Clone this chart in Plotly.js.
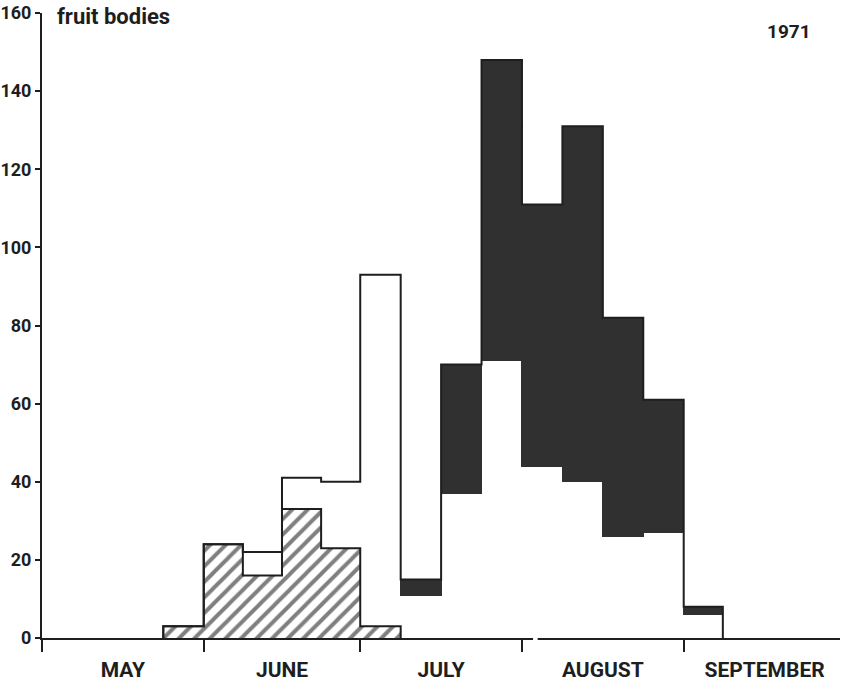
<!DOCTYPE html>
<html>
<head>
<meta charset="utf-8">
<script src="https://cdn.plot.ly/plotly-3.0.1.min.js"></script>
<style>
  html, body { margin: 0; padding: 0; background: #fff; }
  #chart { width: 841px; height: 683px; }
</style>
</head>
<body>
<div id="chart"></div>
<script>
// Fruit bodies counted per quarter-month period, 1971
const year = 1971;
const binMonth   = [5, 6, 6, 6, 6, 7, 7, 7, 7, 8, 8, 8, 8, 9];
const binQuarter = [4, 1, 2, 3, 4, 1, 2, 3, 4, 1, 2, 3, 4, 1];

// three stacked components of each period's count
const hatchedCounts = [3, 24, 16, 33, 23, 3, 0, 0, 0, 0, 0, 0, 0, 0];
const whiteCounts   = [0, 0, 6, 8, 17, 90, 11, 37, 71, 44, 40, 26, 27, 6];
const blackCounts   = [0, 0, 0, 0, 0, 0, 4, 33, 77, 67, 91, 56, 34, 2];

const monthNames  = ['May', 'June', 'July', 'August', 'September'];
const monthLabels = ['MAY', 'JUNE', 'JULY', 'AUGUST', 'SEPTEMBER'];

// bin edges on the date axis (each bin = a quarter of its month)
const starts = [], ends = [];
binMonth.forEach((m, i) => {
  const start = Date.UTC(year, m - 1, 1);
  const next = Date.UTC(year, m, 1);
  const w = (next - start) / 4;
  starts.push(start + (binQuarter[i] - 1) * w);
  ends.push(start + binQuarter[i] * w);
});
const centers = starts.map((s, i) => (s + ends[i]) / 2);
const widths = starts.map((s, i) => ends[i] - s);

const totals = hatchedCounts.map((h, i) => h + whiteCounts[i] + blackCounts[i]);

// step outline (hv) of a profile over its non-empty bins
function stepOutline(values) {
  let first = values.findIndex(v => v > 0);
  let last = values.length - 1;
  while (last > first && values[last] === 0) last--;
  const x = [starts[first]], y = [0];
  for (let i = first; i <= last; i++) { x.push(starts[i]); y.push(values[i]); }
  x.push(ends[last]); y.push(values[last]);
  x.push(ends[last]); y.push(0);
  return { x, y };
}

const ink = '#1e1e1e';
const dark = '#303030';
const nz = arr => arr.map(v => (v === 0 ? null : v));

const hatchOutline = stepOutline(hatchedCounts);
const totalOutline = stepOutline(totals);

const traces = [
  {
    type: 'bar', x: centers, y: nz(hatchedCounts), width: widths,
    marker: {
      color: '#fff', line: { width: 0 },
      pattern: { shape: '/', size: 11, solidity: 0.36, fgcolor: '#000', bgcolor: '#fff', fillmode: 'overlay' }
    },
    hoverinfo: 'y', showlegend: false
  },
  {
    type: 'bar', x: centers, y: nz(whiteCounts), width: widths,
    marker: { color: '#fff', line: { width: 0 } },
    hoverinfo: 'y', showlegend: false
  },
  {
    type: 'bar', x: centers, y: nz(blackCounts), width: widths,
    marker: { color: dark, line: { color: dark, width: 1 } },
    hoverinfo: 'y', showlegend: false
  },
  {
    type: 'scatter', mode: 'lines', x: hatchOutline.x, y: hatchOutline.y,
    line: { shape: 'hv', color: ink, width: 2 }, hoverinfo: 'skip', showlegend: false
  },
  {
    type: 'scatter', mode: 'lines', x: totalOutline.x, y: totalOutline.y,
    line: { shape: 'hv', color: ink, width: 2 }, hoverinfo: 'skip', showlegend: false
  }
];

const alias = {};
monthNames.forEach((n, i) => { alias[n] = monthLabels[i]; });

const font = { family: 'Roboto, DejaVu Sans Condensed, sans-serif', color: ink, weight: 'bold' };
const withSize = s => Object.assign({ size: s }, font);

const layout = {
  width: 841, height: 683,
  margin: { l: 42, r: 1, t: 13, b: 45 },
  paper_bgcolor: '#fff', plot_bgcolor: '#fff',
  barmode: 'stack', bargap: 0,
  font: withSize(18),
  xaxis: {
    type: 'date',
    range: [Date.UTC(year, 4, 1), Date.UTC(year, 8, 30, 23)],
    tick0: Date.UTC(year, 4, 1), dtick: 'M1',
    tickformat: '%B', ticklabelmode: 'period', labelalias: alias,
    ticks: 'outside', ticklen: 12, tickwidth: 2, tickcolor: ink,
    showline: true, linewidth: 2, linecolor: ink,
    showgrid: false, zeroline: false,
    tickfont: withSize(21)
  },
  yaxis: {
    range: [0, 160], dtick: 20, tick0: 0,
    ticks: 'outside', ticklen: 5, tickwidth: 2, tickcolor: ink,
    showline: true, linewidth: 2, linecolor: ink,
    showgrid: false, zeroline: false,
    tickfont: withSize(18)
  },
  shapes: [
    // small break in the baseline early in August
    { type: 'line', xref: 'x', yref: 'paper', layer: 'above',
      x0: Date.UTC(year, 7, 3, 3), x1: Date.UTC(year, 7, 4), y0: 0, y1: 0,
      line: { color: '#fff', width: 4 } }
  ],
  annotations: [
    { xref: 'paper', yref: 'paper', x: 0.016, y: 0.994, xanchor: 'left', yanchor: 'middle',
      text: 'fruit bodies', showarrow: false, font: withSize(22) },
    { xref: 'paper', yref: 'paper', x: 0.936, y: 0.970, xanchor: 'center', yanchor: 'middle',
      text: '1971', showarrow: false, font: withSize(19) }
  ]
};

Plotly.newPlot('chart', traces, layout, { displayModeBar: false, staticPlot: true });
</script>
</body>
</html>
